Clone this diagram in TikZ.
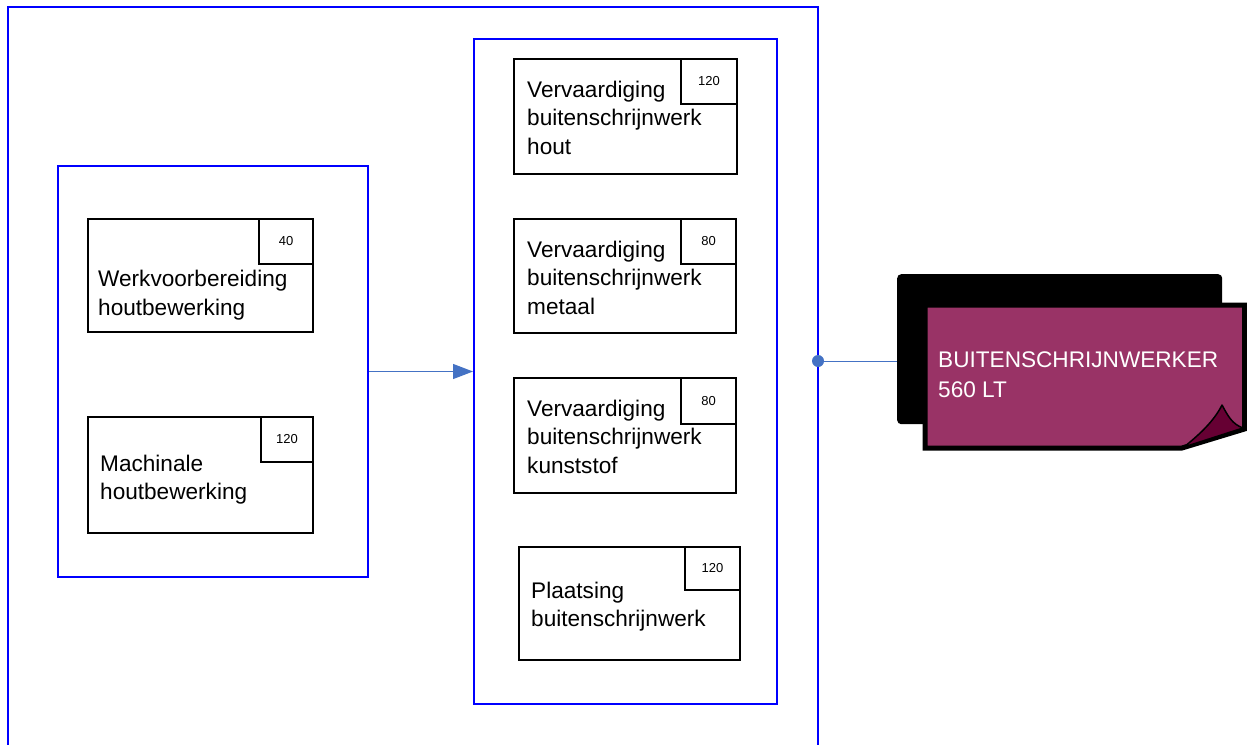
\documentclass[tikz,border=0pt]{standalone}
\usepackage{fontspec}
\setmainfont{Liberation Sans}
\usetikzlibrary{arrows.meta}
\definecolor{grpblue}{RGB}{0,0,255}
\definecolor{arrblue}{RGB}{68,114,196}
\definecolor{notefill}{RGB}{153,51,102}
\definecolor{notefold}{RGB}{102,0,51}
\newcommand{\mylines}[1]{\parbox[t]{300pt}{#1}}
\begin{document}
\begin{tikzpicture}[x=1pt,y=-1pt,
  grp/.style={draw=grpblue, line width=2pt, anchor=north west, inner sep=0pt},
  task/.style={draw=black, line width=2pt, anchor=north west, inner sep=0pt},
  num/.style={draw=black, line width=2pt, anchor=north east, inner sep=0pt, font=\fontsize{13}{15}\selectfont},
  lbl/.style={anchor=base west, inner sep=0pt, font=\fontsize{22.6}{28.5}\selectfont},
  conn/.style={draw=arrblue, line width=1.2pt}]
\useasboundingbox (0,0) rectangle (1247,744);
\fill[white] (0,0) rectangle (1247,744);
% outer container (bottom edge outside picture)
\draw[grpblue, line width=2pt] (8,746) -- (8,7) -- (818,7) -- (818,746);
\coordinate (dotc) at (818,361);
% groups
\node[grp, minimum width=310pt, minimum height=411pt] (lg) at (57,165) {};
\node[grp, minimum width=303pt, minimum height=665pt] (mg) at (473,38) {};
% left tasks
\node[task, minimum width=225pt, minimum height=113pt] (wb) at (87,218) {};
\node[num, minimum width=54pt, minimum height=45pt] (wbn) at (wb.north east) {40};
\node[lbl] (wbt) at (98,286.5) {\mylines{Werkvoorbereiding\\houtbewerking}};
\node[task, minimum width=225pt, minimum height=116pt] (mh) at (87,416) {};
\node[num, minimum width=52pt, minimum height=45pt] (mhn) at (mh.north east) {120};
\node[lbl] (mht) at (100,471) {\mylines{Machinale\\houtbewerking}};
% middle tasks
\node[task, minimum width=223pt, minimum height=115pt] (v1) at (513,58) {};
\node[num, minimum width=56pt, minimum height=45pt] (v1n) at (v1.north east) {120};
\node[lbl] (v1t) at (527,97) {\mylines{Vervaardiging\\buitenschrijnwerk\\hout}};
\node[task, minimum width=222pt, minimum height=114pt] (v2) at (513,218) {};
\node[num, minimum width=55pt, minimum height=45pt] (v2n) at (v2.north east) {80};
\node[lbl] (v2t) at (527,257) {\mylines{Vervaardiging\\buitenschrijnwerk\\metaal}};
\node[task, minimum width=222pt, minimum height=115pt] (v3) at (513,377) {};
\node[num, minimum width=55pt, minimum height=46pt] (v3n) at (v3.north east) {80};
\node[lbl] (v3t) at (527,416) {\mylines{Vervaardiging\\buitenschrijnwerk\\kunststof}};
\node[task, minimum width=221pt, minimum height=113pt] (pl) at (518,546) {};
\node[num, minimum width=55pt, minimum height=43pt] (pln) at (pl.north east) {120};
\node[lbl] (plt) at (531,598) {\mylines{Plaatsing\\buitenschrijnwerk}};
% note
\node[fill=black, rounded corners=4pt, anchor=north west, inner sep=0pt, minimum width=325pt, minimum height=150pt] (back) at (897,274) {};
\draw[line width=5pt, fill=notefill, line join=miter] (925,305) -- (1244.5,305) -- (1244.5,429) -- (1182,448) -- (925,448) -- cycle;
\draw[line width=1.5pt, fill=notefold, line join=round] (1184,447) .. controls (1200,434) and (1214,421) .. (1222,405) .. controls (1228,416) and (1232,424) .. (1243,428) -- cycle;
\node[lbl, text=white, font=\fontsize{22.6}{30}\selectfont] (nt) at (938,367) {\mylines{BUITENSCHRIJNWERKER\\560 LT}};
% connectors
\draw[conn, -{Triangle[length=20pt,width=15pt]}] (lg.east) -- (mg.west);
\draw[conn, line width=1pt] (dotc) -- (back.west |- dotc);
\fill[arrblue] (dotc) circle (6pt);
\end{tikzpicture}
\end{document}
